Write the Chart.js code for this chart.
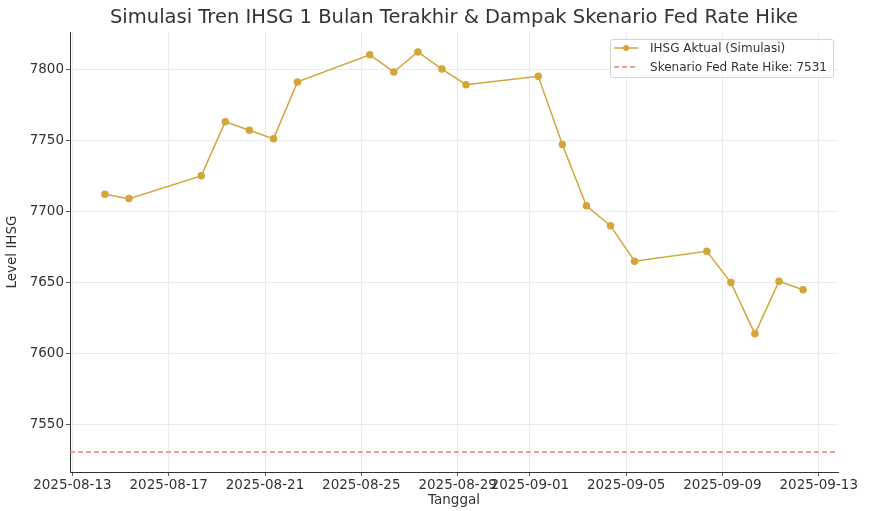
<!DOCTYPE html>
<html>
<head>
<meta charset="utf-8">
<script src="https://cdn.jsdelivr.net/npm/chart.js@4/dist/chart.umd.min.js"></script>
<style>
  html, body { margin: 0; padding: 0; background: #fff; }
  #wrap { width: 870px; height: 511px; }
</style>
</head>
<body>
<div id="wrap"><canvas id="chart" width="870" height="511"></canvas></div>
<script>
/* data */
const tanggal = [
  '2025-08-14','2025-08-15','2025-08-18','2025-08-19','2025-08-20','2025-08-21','2025-08-22',
  '2025-08-25','2025-08-26','2025-08-27','2025-08-28','2025-08-29',
  '2025-09-01','2025-09-02','2025-09-03','2025-09-04','2025-09-05',
  '2025-09-08','2025-09-09','2025-09-10','2025-09-11','2025-09-12'
];
const ihsg = [
  7712, 7709, 7725, 7763, 7757, 7751, 7791,
  7810, 7798, 7812, 7800, 7789,
  7795, 7747, 7704, 7690, 7665,
  7672, 7650, 7614, 7651, 7645
];
const skenarioFed = 7531;
const xTickDates = ['2025-08-13','2025-08-17','2025-08-21','2025-08-25','2025-08-29',
                    '2025-09-01','2025-09-05','2025-09-09','2025-09-13'];
const yTicks = [7550, 7600, 7650, 7700, 7750, 7800];
const judul = 'Simulasi Tren IHSG 1 Bulan Terakhir & Dampak Skenario Fed Rate Hike';

const DAY = 86400000;
const toMs = d => Date.parse(d + 'T00:00:00Z');
const jam = 0.35 * DAY; // titik data sedikit bergeser dari tengah malam

const xs = tanggal.map(d => toMs(d) + jam);
const xRange = xs[xs.length - 1] - xs[0];
const xMin = xs[0] - 0.05 * xRange;
const xMax = xs[xs.length - 1] + 0.05 * xRange;

const yHi = Math.max(...ihsg), yLo = Math.min(...ihsg, skenarioFed);
const yMin = yLo - 0.05 * (yHi - yLo);
const yMax = yHi + 0.05 * (yHi - yLo);

const GOLD = '#d4a53a';
const RED = 'rgba(228, 100, 90, 0.85)';
const FONT = 'DejaVu Sans';
const INK = '#333';

/* judul di tengah area plot (seperti matplotlib) */
const judulPlot = {
  id: 'judulPlot',
  afterDraw(chart) {
    const { ctx, chartArea } = chart;
    ctx.save();
    ctx.font = '19.5px ' + FONT;
    ctx.fillStyle = INK;
    ctx.textAlign = 'center';
    ctx.textBaseline = 'middle';
    ctx.fillText(judul, (chartArea.left + chartArea.right) / 2, 18);
    ctx.restore();
  }
};

/* legend di pojok kanan atas area plot */
const legendBox = {
  id: 'legendBox',
  afterDatasetsDraw(chart) {
    const { ctx, chartArea } = chart;
    const items = chart.data.datasets;
    ctx.save();
    ctx.font = '12px ' + FONT;
    const textW = Math.max(...items.map(d => ctx.measureText(d.label).width));
    const w = textW + 46, h = 38;
    const x = chartArea.right - 5 - w, y = chartArea.top + 7;
    ctx.fillStyle = 'rgba(255,255,255,0.85)';
    ctx.strokeStyle = '#d4d4d4';
    ctx.lineWidth = 1;
    ctx.beginPath();
    ctx.roundRect(x + 0.5, y + 0.5, w, h, 2);
    ctx.fill();
    ctx.stroke();
    items.forEach((d, i) => {
      const cy = y + 9 + i * 19;
      ctx.strokeStyle = d.borderColor;
      ctx.lineWidth = d.borderWidth;
      ctx.setLineDash(d.borderDash || []);
      ctx.beginPath();
      ctx.moveTo(x + 4, cy);
      ctx.lineTo(x + 28, cy);
      ctx.stroke();
      ctx.setLineDash([]);
      if (d.pointRadius) {
        ctx.fillStyle = d.pointBackgroundColor;
        ctx.beginPath();
        ctx.arc(x + 16, cy, d.pointRadius, 0, Math.PI * 2);
        ctx.fill();
      }
      ctx.fillStyle = INK;
      ctx.textBaseline = 'middle';
      ctx.fillText(d.label, x + 40, cy + 0.5);
    });
    ctx.restore();
  }
};

new Chart(document.getElementById('chart'), {
  type: 'line',
  data: {
    datasets: [
      {
        label: 'IHSG Aktual (Simulasi)',
        data: xs.map((x, i) => ({ x, y: ihsg[i] })),
        borderColor: GOLD,
        backgroundColor: GOLD,
        pointBackgroundColor: GOLD,
        pointBorderColor: GOLD,
        borderWidth: 1.5,
        pointRadius: 3,
        tension: 0,
      },
      {
        label: 'Skenario Fed Rate Hike: ' + skenarioFed,
        data: [{ x: xMin, y: skenarioFed }, { x: xMax, y: skenarioFed }],
        borderColor: RED,
        borderWidth: 1.5,
        borderDash: [5, 3],
        pointRadius: 0,
      },
    ],
  },
  options: {
    responsive: false,
    animation: false,
    layout: { padding: { left: 0, right: 32, top: 32, bottom: 0 } },
    plugins: {
      legend: { display: false },
      tooltip: { enabled: false },
      title: { display: false },
    },
    scales: {
      x: {
        type: 'linear',
        min: xMin,
        max: xMax,
        afterBuildTicks: s => { s.ticks = xTickDates.map(d => ({ value: toMs(d) })); },
        afterFit: s => { s.height = 39; },
        ticks: {
          autoSkip: false,
          maxRotation: 0,
          padding: 1,
          color: INK,
          font: { family: FONT, size: 13.5 },
          callback: v => new Date(v).toISOString().slice(0, 10),
        },
        grid: { color: '#e6e6e6', lineWidth: 0.8, tickLength: 4, tickColor: INK },
        border: { color: INK, width: 1 },
        title: {
          display: true, text: 'Tanggal', color: INK,
          font: { family: FONT, size: 13.5 }, padding: { top: 0, bottom: 2 },
        },
      },
      y: {
        min: yMin,
        max: yMax,
        afterBuildTicks: s => { s.ticks = yTicks.map(v => ({ value: v })); },
        afterFit: s => { s.width = 70; },
        ticks: {
          padding: 2,
          color: INK,
          font: { family: FONT, size: 13.5 },
          callback: v => String(v),
        },
        grid: { color: '#e6e6e6', lineWidth: 0.8, tickLength: 4, tickColor: INK },
        border: { color: INK, width: 1 },
        title: {
          display: true, text: 'Level IHSG', color: INK,
          font: { family: FONT, size: 13.5 }, padding: { top: 4, bottom: 0 },
        },
      },
    },
  },
  plugins: [judulPlot, legendBox],
});
</script>
</body>
</html>
